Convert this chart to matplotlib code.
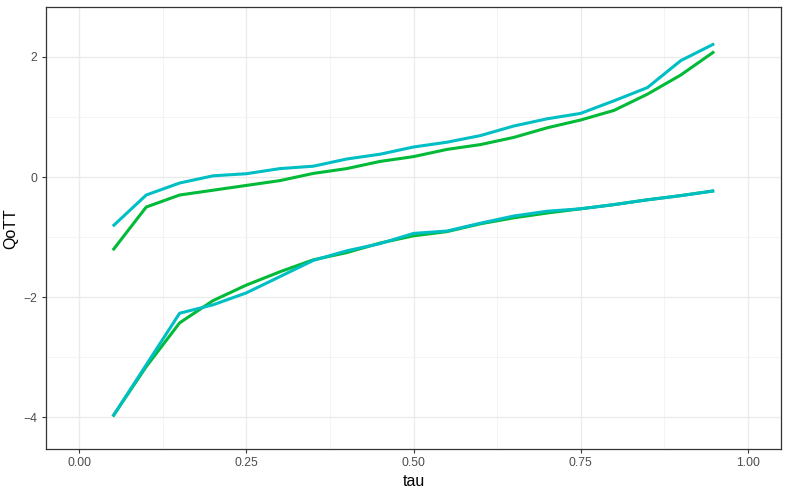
import matplotlib.pyplot as plt
from matplotlib.ticker import MultipleLocator

# data
tau = [0.05, 0.10, 0.15, 0.20, 0.25, 0.30, 0.35, 0.40, 0.45, 0.50,
       0.55, 0.60, 0.65, 0.70, 0.75, 0.80, 0.85, 0.90, 0.95]

upper_green = [-1.22, -0.50, -0.30, -0.22, -0.14, -0.06, 0.06, 0.14, 0.26, 0.34,
               0.46, 0.54, 0.66, 0.82, 0.95, 1.11, 1.38, 1.70, 2.09]
upper_cyan = [-0.82, -0.30, -0.10, 0.02, 0.055, 0.14, 0.18, 0.30, 0.38, 0.50,
              0.58, 0.69, 0.85, 0.97, 1.06, 1.27, 1.49, 1.94, 2.22]
lower_green = [-3.99, -3.16, -2.43, -2.06, -1.80, -1.58, -1.38, -1.26, -1.10, -0.98,
               -0.91, -0.78, -0.68, -0.60, -0.53, -0.46, -0.38, -0.31, -0.23]
lower_cyan = [-3.99, -3.13, -2.27, -2.13, -1.93, -1.66, -1.39, -1.23, -1.11, -0.94,
              -0.90, -0.77, -0.65, -0.57, -0.53, -0.46, -0.38, -0.31, -0.23]

green = '#00BA38'
cyan = '#00BFC4'

plt.rcParams['font.family'] = ['Liberation Sans', 'DejaVu Sans']

fig = plt.figure(figsize=(7.89, 4.93), dpi=100)
ax = fig.add_axes([0.0583, 0.0892, 0.9316, 0.8956])

ax.plot(tau, upper_green, color=green, lw=2.2, solid_capstyle='butt')
ax.plot(tau, lower_green, color=green, lw=2.2, solid_capstyle='butt')
ax.plot(tau, upper_cyan, color=cyan, lw=2.2, solid_capstyle='butt')
ax.plot(tau, lower_cyan, color=cyan, lw=2.2, solid_capstyle='butt')

ax.set_xlim(-0.05, 1.05)
ax.set_ylim(-4.533, 2.825)

ax.xaxis.set_minor_locator(MultipleLocator(0.125))
ax.yaxis.set_minor_locator(MultipleLocator(1))
ax.set_xticks([0, 0.25, 0.5, 0.75, 1.0])
ax.set_xticklabels(['0.00', '0.25', '0.50', '0.75', '1.00'])
ax.set_yticks([-4, -2, 0, 2])
ax.set_yticklabels(['\u22124', '\u22122', '0', '2'])

ax.grid(which='major', color='#EBEBEB', lw=1.0)
ax.grid(which='minor', color='#F3F3F3', lw=0.6)
ax.set_axisbelow(True)

ax.tick_params(which='major', length=3, width=0.8, color='#333333',
               labelcolor='#4D4D4D', labelsize=8.8, pad=3)
ax.tick_params(which='minor', length=0)
for s in ax.spines.values():
    s.set_color('#333333')
    s.set_linewidth(0.9)

ax.set_xlabel('tau', fontsize=11.5, labelpad=3)
ax.set_ylabel('QoTT', fontsize=11.5, labelpad=4)

fig.savefig('out.png', dpi=100)
